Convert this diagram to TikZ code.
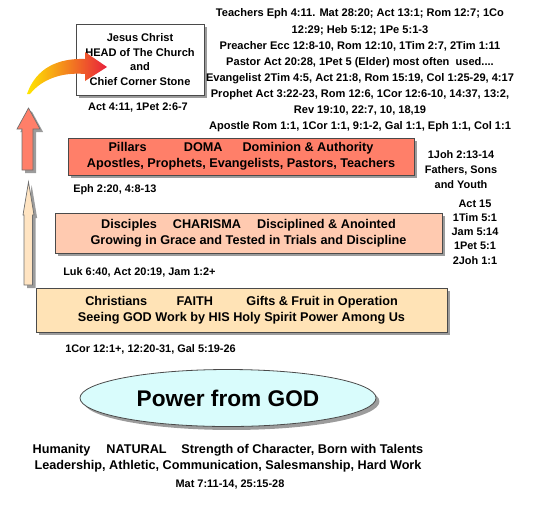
\documentclass[tikz,border=0pt]{standalone}
\usepackage{fontspec}
\setmainfont{Liberation Sans}
\usepackage{tikz}
\usetikzlibrary{positioning,shadows,shapes.geometric}
\definecolor{pillarred}{HTML}{FF7F69}
\definecolor{discpeach}{HTML}{FFCAB0}
\definecolor{faithcream}{HTML}{FFE3B6}
\definecolor{powercyan}{HTML}{D9FCFC}
\definecolor{arrowcream}{HTML}{FFE4C2}
\definecolor{shadowgray}{HTML}{9C9C9C}
\definecolor{edgegray}{HTML}{4A4A4A}
\definecolor{sunyellow}{HTML}{FFE600}
\definecolor{sunorange}{HTML}{F8922E}
\definecolor{sunred}{HTML}{E8203C}

\begin{document}
\begin{tikzpicture}[
  x=0.75pt,y=-0.75pt,
  font=\bfseries\fontsize{9.5}{12}\selectfont,
  line cap=butt,line join=miter,
  tier/.style={draw=edgegray,line width=.6pt,align=center,inner sep=0pt,
               drop shadow={shadow xshift=2.6pt,shadow yshift=-2.6pt,
                            fill=shadowgray,opacity=1}},
  ref/.style={font=\bfseries\fontsize{8.2}{11}\selectfont,align=center,inner sep=0pt},
  uparrow/.style={draw=edgegray!80,line width=.5pt,
                  drop shadow={shadow xshift=2.4pt,shadow yshift=-2.4pt,
                               fill=shadowgray,opacity=1}}
]
\useasboundingbox (0,0) rectangle (538,508);

% the levels, top to bottom
\node[tier,fill=white,minimum width=96pt,minimum height=53.25pt,
      font=\bfseries\fontsize{8.3}{11}\selectfont] (head) at (140,59.5)
  {Jesus Christ\\HEAD of The Church\\and\\Chief Corner Stone};
\node[tier,fill=pillarred,minimum width=259.5pt,minimum height=27.75pt] (pillars) at (241,156.5)
  {Pillars\hspace{28pt}DOMA\hspace{15pt}Dominion \& Authority\\
   Apostles, Prophets, Evangelists, Pastors, Teachers};
\node[tier,fill=discpeach,minimum width=290.25pt,minimum height=30pt] (disciples) at (248.5,233)
  {Disciples\hspace{12pt}CHARISMA\hspace{12pt}Disciplined \& Anointed\\
   Growing in Grace and Tested in Trials and Discipline};
\node[tier,fill=faithcream,minimum width=308.25pt,minimum height=33pt] (faith) at (241.5,310)
  {Christians\hspace{22pt}FAITH\hspace{25pt}Gifts \& Fruit in Operation\\
   Seeing GOD Work by HIS Holy Spirit Power Among Us};
\node[tier,ellipse,fill=powercyan,minimum width=222pt,minimum height=42.75pt,
      font=\bfseries\fontsize{17}{20}\selectfont] (power) at (228,398) {Power from GOD};
\node[align=center,inner sep=0pt] (natural) at (228,458)
  {Humanity\hspace{12pt}NATURAL\hspace{11pt}Strength of Character, Born with Talents\\
   Leadership, Athletic, Communication, Salesmanship, Hard Work};

% scripture references
\node[ref] (headref) at (138,108) {Act 4:11, 1Pet 2:6-7};
\node[ref,font=\bfseries\fontsize{8.3}{12.1}\selectfont] (offices) at (360,70.5)
  {Teachers Eph 4:11. Mat 28:20; Act 13:1; Rom 12:7; 1Co\\
   12:29; Heb 5:12; 1Pe 5:1-3\\
   Preacher Ecc 12:8-10, Rom 12:10, 1Tim 2:7, 2Tim 1:11\\
   Pastor Act 20:28, 1Pet 5 (Elder) most often\ \ used....\\
   Evangelist 2Tim 4:5, Act 21:8, Rom 15:19, Col 1:25-29, 4:17\\
   Prophet Act 3:22-23, Rom 12:6, 1Cor 12:6-10, 14:37, 13:2,\\
   Rev 19:10, 22:7, 10, 18,19\\
   Apostle Rom 1:1, 1Cor 1:1, 9:1-2, Gal 1:1, Eph 1:1, Col 1:1};
\node[ref,anchor=west] (pillarsref) at (73,190) {Eph 2:20, 4:8-13};
\node[ref,font=\bfseries\fontsize{8.2}{11.25}\selectfont] (fathers) at (461,170)
  {1Joh 2:13-14\\Fathers, Sons\\and Youth};
\node[ref,font=\bfseries\fontsize{8.2}{10.7}\selectfont] (elders) at (475,232)
  {Act 15\\1Tim 5:1\\Jam 5:14\\1Pet 5:1\\2Joh 1:1};
\node[ref,anchor=west] (discref) at (63,272) {Luk 6:40, Act 20:19, Jam 1:2+};
\node[ref,anchor=west] (faithref) at (65,349) {1Cor 12:1+, 12:20-31, Gal 5:19-26};
\node[ref] (naturalref) at (230,485) {Mat 7:11-14, 25:15-28};

% rising arrows on the left
\path[uparrow,fill=arrowcream] (24,285) -- (24,215) -- (23,215) -- (28.5,182)
  -- (34,215) -- (32.5,215) -- (32.5,285) -- cycle;
\path[uparrow,fill=pillarred] (22,170) -- (22,129) -- (17,129) -- (28.5,108)
  -- (40,129) -- (33,129) -- (33,170) -- cycle;
\shade[left color=sunyellow,middle color=sunorange,right color=sunred]
  (27,94) .. controls (36,68) and (58,58) .. (85,59) -- (85,52) -- (107,67)
  -- (85,81) -- (85,74) .. controls (62,72) and (42,79) .. (30,94) -- cycle;
\end{tikzpicture}
\end{document}
